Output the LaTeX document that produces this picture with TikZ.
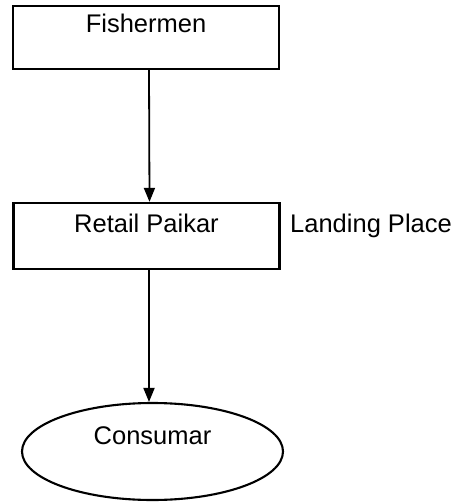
\documentclass[tikz,border=0pt]{standalone}
\usepackage{fontspec}
\setmainfont{Liberation Sans}
\usetikzlibrary{arrows.meta,shapes.geometric}
\begin{document}
\begin{tikzpicture}[x=1pt,y=-1pt,
  every node/.style={font=\fontsize{25.5}{30}\selectfont},
  stagebox/.style={draw,line width=2.3pt,rectangle,inner sep=0pt,minimum width=266pt},
  flow/.style={line width=1.8pt,-{Triangle[length=14pt,width=11pt]}}]
  \useasboundingbox (0,0) rectangle (465,503);
  % stages of the chain
  \node[stagebox,text height=27pt,text depth=36pt] (fish) at (146,37.5) {Fishermen};
  \node[stagebox,text height=29pt,text depth=37pt] (retail) at (146.5,236) {Retail Paikar};
  \node[anchor=base west,inner sep=0pt] (place) at (290,232) {Landing Place};
  \node[draw,ellipse,line width=2.1pt,inner sep=0pt,text height=20pt,text depth=35pt,
        minimum width=261pt,minimum height=97pt] (cons) at (152.5,451.5) {Consumar};
  % flow between stages
  \draw[flow] ([xshift=3pt]fish.south) -- ([xshift=3pt]retail.north);
  \draw[flow] ([xshift=2.5pt]retail.south) -- ([xshift=2.5pt]retail.south |- cons.north);
\end{tikzpicture}
\end{document}
